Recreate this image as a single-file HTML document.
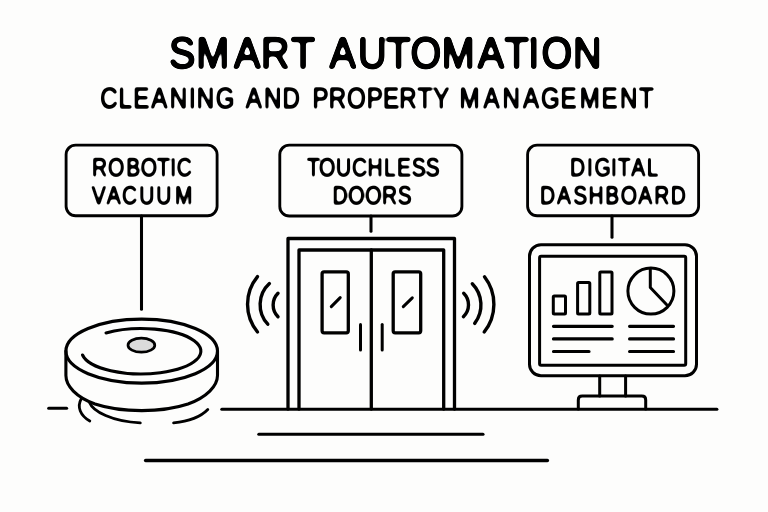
<!DOCTYPE html>
<html lang="en">
<head>
<meta charset="utf-8">
<title>Smart Automation – Cleaning and Property Management</title>
<style>
  html, body { margin: 0; padding: 0; background: #fdfdfc; }
  body { width: 768px; height: 512px; overflow: hidden; }
  svg { display: block; will-change: transform; }
  .ln { fill: none; stroke: #000; stroke-width: 3; stroke-linecap: round; stroke-linejoin: round; }
  .bx { stroke-width: 2.85; }
  .dr { stroke-width: 3.3; }
  .vc { stroke-width: 3.1; }
  .tl { stroke-width: 3.2; }
  .wv { stroke-width: 3.4; }
  .st { stroke-width: 3.05; }
  .mk { stroke-width: 2.8; }
  .gd { stroke-width: 3.1; }
  .g3 { stroke-width: 3.4; }
  .t  { font-family: "Liberation Sans", sans-serif; fill: #000; stroke: #000; stroke-linejoin: round; stroke-linecap: round; text-rendering: geometricPrecision; }
  .title { font-size: 43.9px; stroke-width: 2.1; }
  .sub { font-size: 29.2px; stroke-width: 1.4; }
  .lab { font-size: 25.55px; stroke-width: 1.28; }
</style>
</head>
<body>
<svg width="768" height="512" viewBox="0 0 768 512">
  <defs>
    <filter id="rnd" filterUnits="userSpaceOnUse" x="0" y="0" width="768" height="512" color-interpolation-filters="sRGB">
      <feGaussianBlur stdDeviation="1.6"/>
      <feComponentTransfer><feFuncA type="linear" slope="5" intercept="-2"/></feComponentTransfer>
    </filter>
    <filter id="rnd2" filterUnits="userSpaceOnUse" x="0" y="0" width="768" height="512" color-interpolation-filters="sRGB">
      <feGaussianBlur stdDeviation="0.8"/>
      <feComponentTransfer><feFuncA type="linear" slope="3" intercept="-1"/></feComponentTransfer>
    </filter>
  </defs>
  <rect width="768" height="512" fill="#fdfdfc"/>

  <!-- Headings -->
  <g class="t title" filter="url(#rnd)">
    <text transform="scale(0.9 1)" x="187.72 217.93 259.92 290.14 323.36" y="68">SMART</text>
    <text transform="scale(0.9 1)" x="366.19 397.68 429.56 456.16 490.98 530.93 560.69 586.99 601.67 636.6" y="68">AUTOMATION</text>
  </g>
  <g class="t sub" filter="url(#rnd2)">
    <text transform="scale(0.825 1)" x="121.64 143.51 161.64 183.33 205.84 228.97 238.36 261.44" y="108">CLEANING</text>
    <text transform="scale(0.825 1)" x="297.86 319.94 342.4" y="108">AND</text>
    <text transform="scale(0.825 1)" x="378.91 398.58 420.68 444.49 464.33 483.89 505.94 525.31" y="108">PROPERTY</text>
    <text transform="scale(0.825 1)" x="556.85 586.07 609.09 634.05 655.65 679.33 702.87 729.14 751.45 774.5" y="108">MANAGEMENT</text>
  </g>

  <!-- Label boxes -->
  <rect class="ln bx" x="66.1" y="145.1" width="151" height="70.6" rx="9.5" ry="9.5"/>
  <rect class="ln bx" x="279.8" y="145.1" width="182.1" height="70.9" rx="9.5" ry="9.5"/>
  <rect class="ln bx" x="527.6" y="145.1" width="171" height="70.6" rx="9.5" ry="9.5"/>
  <g class="t lab" filter="url(#rnd2)">
    <text transform="scale(0.82 1)" x="112.32 131.75 153.99 171.71 191.54 207.49 215.66" y="176">ROBOTIC</text>
    <text transform="scale(0.82 1)" x="111.87 130.05 148.87 169.89 190.57 213.47" y="204">VACUUM</text>
    <text transform="scale(0.82 1)" x="374.46 388.94 409.85 429.16 448.11 468.22 484.25 502.02 519.1" y="176">TOUCHLESS</text>
    <text transform="scale(0.82 1)" x="405.62 424.62 445.34 465.98 485.08" y="204">DOORS</text>
    <text transform="scale(0.82 1)" x="695.25 715.86 724.88 745.05 753.35 769.71 788.8" y="176">DIGITAL</text>
    <text transform="scale(0.82 1)" x="658.67 679.14 699.24 717.8 738.15 757.1 778.31 797.75 817.86" y="204">DASHBOARD</text>
  </g>

  <!-- Connector stems -->
  <path class="ln st" d="M141.5 216 V309.3"/>
  <path class="ln st" d="M371 216 V231.2"/>
  <path class="ln st" d="M612 216 V237.3"/>

  <!-- Ground lines -->
  <path class="ln gd" d="M48.7 408.3 H66.6"/>
  <path class="ln gd" d="M221.8 409.3 H716.9"/>
  <path class="ln gd" d="M258.8 434.3 H483"/>
  <path class="ln g3" d="M145.6 460.5 H547.4"/>

  <!-- Robotic vacuum -->
  <g>
    <path class="ln vc" d="M65.9 351.1 V375.5 C66 386 76 397 95 404 C110 409 126 410.6 141.7 410.6 C157 410.6 173 409 188 404 C207 397 217.4 386 217.5 375.5 V351.1"/>
    <ellipse class="ln vc" cx="141.7" cy="351.1" rx="75.8" ry="32"/>
    <path class="ln vc" d="M106 332.9 A59.6 22.7 0 1 1 82.54 355"/>
    <ellipse cx="141.4" cy="345.2" rx="13.4" ry="7" fill="#dbdbdb" stroke="#000" stroke-width="2.7"/>
    <path class="ln mk" d="M81.3 398.8 C76.6 407 80.5 415.5 89.8 421"/>
    <path class="ln mk" d="M89.5 402.5 C93 411.5 112 421.5 140.3 422.9"/>
    <path class="ln mk" d="M173.6 422.9 C188 421.5 201 416.5 207.8 409.5"/>
  </g>

  <!-- Touchless doors -->
  <g>
    <path class="ln dr" d="M288 409 V238.5 H454.5 V409"/>
    <path class="ln dr" d="M299 409 V250 H443.7 V409"/>
    <path class="ln dr" d="M371.3 250 V409"/>
    <rect class="ln dr" x="322.1" y="271.8" width="26.2" height="61" rx="2" ry="2"/>
    <rect class="ln dr" x="393.2" y="271.8" width="27.5" height="61" rx="2" ry="2"/>
    <path class="ln" d="M331.3 306.6 L340.2 297.6"/>
    <path class="ln" d="M403.3 306.6 L412.3 297.9"/>
    <path class="ln" d="M360.5 324.5 V350"/>
    <path class="ln" d="M382.2 324.5 V350"/>
    <!-- left motion-sensor waves -->
    <path class="ln wv" d="M257.5 276.6 A43.5 43.5 0 0 0 257.5 332"/>
    <path class="ln wv" d="M269.4 283.6 A28.6 28.6 0 0 0 267.8 324.2"/>
    <path class="ln wv" d="M278 293.3 A16.5 16.5 0 0 0 278 316.7"/>
    <!-- right motion-sensor waves -->
    <path class="ln wv" d="M484.5 276.8 A44.7 44.7 0 0 1 484.2 332"/>
    <path class="ln wv" d="M472.3 283.8 A30.3 30.3 0 0 1 474.7 323.4"/>
    <path class="ln wv" d="M463.7 293.3 A16.3 16.3 0 0 1 463.4 316.7"/>
  </g>

  <!-- Digital dashboard monitor -->
  <g>
    <rect class="ln" x="529.5" y="244.7" width="167" height="131.1" rx="11.5" ry="11.5"/>
    <rect class="ln" x="539.6" y="256.2" width="146.1" height="109.1" rx="1.5" ry="1.5"/>
    <rect class="ln" x="553.3" y="296" width="12.2" height="18" rx="1" ry="1"/>
    <rect class="ln" x="577.6" y="282.4" width="12.2" height="31.6" rx="1" ry="1"/>
    <rect class="ln" x="599.8" y="272" width="12.2" height="42" rx="1" ry="1"/>
    <circle class="ln" cx="650.9" cy="291.1" r="23"/>
    <path class="ln" d="M650.3 268.5 V287.5 L666.5 304.5"/>
    <path class="ln tl" d="M553.5 326.3 H612.2 M553.5 338.9 H612.2 M553.5 351.5 H589"/>
    <path class="ln tl" d="M629.6 326.3 H673.5 M629.6 338.9 H673.5 M629.6 351.5 H673.5"/>
    <path class="ln" d="M599.7 376 V396 M625.6 376 V396"/>
    <path class="ln" d="M578.3 409 V400 Q578.3 396.1 582.2 396.1 H641.8 Q645.7 396.1 645.7 400 V409"/>
  </g>
</svg>
</body>
</html>
